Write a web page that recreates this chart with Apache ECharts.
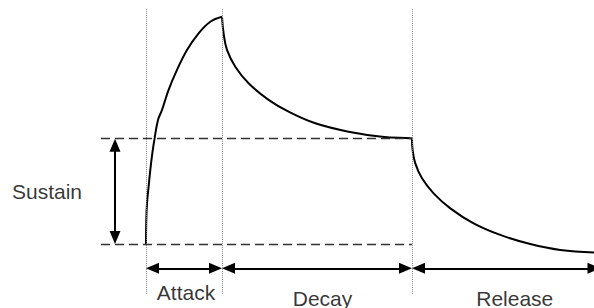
<!DOCTYPE html>
<html>
<head>
<meta charset="utf-8">
<script src="https://cdn.jsdelivr.net/npm/echarts@6/dist/echarts.min.js"></script>
<style>
html, body { margin: 0; padding: 0; background: #fff; }
#adsr { width: 594px; height: 308px; }
</style>
</head>
<body>
<div id="adsr"></div>
<script>
// envelope: time from note-on, level with peak = 100
var attackTime = [0, 0.3, 1, 2.6, 4.3, 6.3, 8.6, 12, 16, 22.6, 31, 41, 52.6, 64.3, 76];
var attackLevel = [0, 10.6, 17.9, 25.2, 32.6, 39.9, 46.5, 54.6, 59, 67.8, 76.6, 85.4, 92.7, 97.8, 100];
var decayTime = [76, 77.6, 81, 89.3, 102.6, 122.6, 142.6, 169.3, 202.6, 236, 264.3, 266];
var decayLevel = [100, 92.7, 85.4, 78, 70.7, 63.4, 58.2, 53.1, 49.4, 47.2, 46.5, 46.4];
var releaseTime = [266, 266.6, 269.3, 276, 287.6, 304.3, 327.6, 354.3, 384.3, 414.3, 448];
var releaseLevel = [46.4, 41.4, 35.5, 28.9, 22.3, 15.7, 9.1, 4.0, 0, -2.6, -3.7];
var phaseNames = ['Attack', 'Decay', 'Release'];
var phaseEdges = [0, 76, 266, 454.5];
var sustainLevel = 46.4;

function pairs(xs, ys) {
  return xs.map(function (x, i) { return [x, ys[i]]; });
}

var guideLeft = -45;     // where the dashed level lines start
var arrowY = -10.7;      // level of the phase arrows
var sustainArrowX = -31;
var tipX = 6.5, tipY = 2.9; // half arrow-head, so tips touch the guides

var guides = [];
phaseEdges.slice(0, 3).forEach(function (t) {
  guides.push([{ coord: [t, 103.4], lineStyle: { type: [1, 1], color: '#8a8a8a', width: 1 } }, { coord: [t, -22] }]);
});
[sustainLevel, 0].forEach(function (lv) {
  guides.push([{ coord: [guideLeft, lv], lineStyle: { type: [9, 5], color: '#333', width: 1.4 } }, { coord: [phaseEdges[2], lv] }]);
});

var arrows = [];
for (var i = 0; i < 3; i++) {
  arrows.push([{ coord: [phaseEdges[i] + tipX, arrowY] }, { coord: [phaseEdges[i + 1] - tipX, arrowY] }]);
}
arrows.push([{ coord: [sustainArrowX, tipY] }, { coord: [sustainArrowX, sustainLevel - tipY] }]);

var labelShift = { Attack: [2, 0], Decay: [5.5, 5.5], Release: [8.5, 5.5] };
var labels = phaseNames.map(function (n, i) {
  return {
    name: n,
    value: [(phaseEdges[i] + phaseEdges[i + 1]) / 2, -21.5],
    label: { offset: labelShift[n] }
  };
});

function curve(xs, ys) {
  return {
    type: 'line',
    data: pairs(xs, ys),
    showSymbol: false,
    smooth: 0.4,
    clip: false,
    silent: true,
    lineStyle: { color: '#000', width: 2 }
  };
}

var chart = echarts.init(document.getElementById('adsr'), null, { renderer: 'svg' });
chart.setOption({
  animation: false,
  grid: { left: 0, right: 0, top: 0, bottom: 0 },
  xAxis: { type: 'value', min: -146, max: 448, show: false },
  yAxis: { type: 'value', min: -28.15, max: 107.35, show: false },
  series: [
    {
      type: 'line',
      data: [],
      silent: true,
      markLine: {
        silent: true,
        symbol: 'none',
        label: { show: false },
        emphasis: { disabled: true },
        data: guides
      }
    },
    {
      type: 'line',
      data: [],
      silent: true,
      markLine: {
        silent: true,
        symbol: ['triangle', 'triangle'],
        symbolSize: [11, 13],
        label: { show: false },
        emphasis: { disabled: true },
        lineStyle: { type: 'solid', color: '#000', width: 2 },
        data: arrows
      }
    },
    curve(attackTime, attackLevel),
    curve(decayTime, decayLevel),
    curve(releaseTime, releaseLevel),
    {
      type: 'scatter',
      symbolSize: 0,
      silent: true,
      label: {
        show: true,
        position: 'inside',
        formatter: '{b}',
        color: '#000',
        fontFamily: 'Liberation Sans, Arial',
        fontSize: 21
      },
      data: labels.concat([{
        name: 'Sustain',
        value: [sustainArrowX, sustainLevel / 2],
        label: { position: 'left', distance: 33 }
      }])
    }
  ]
});
</script>
</body>
</html>
